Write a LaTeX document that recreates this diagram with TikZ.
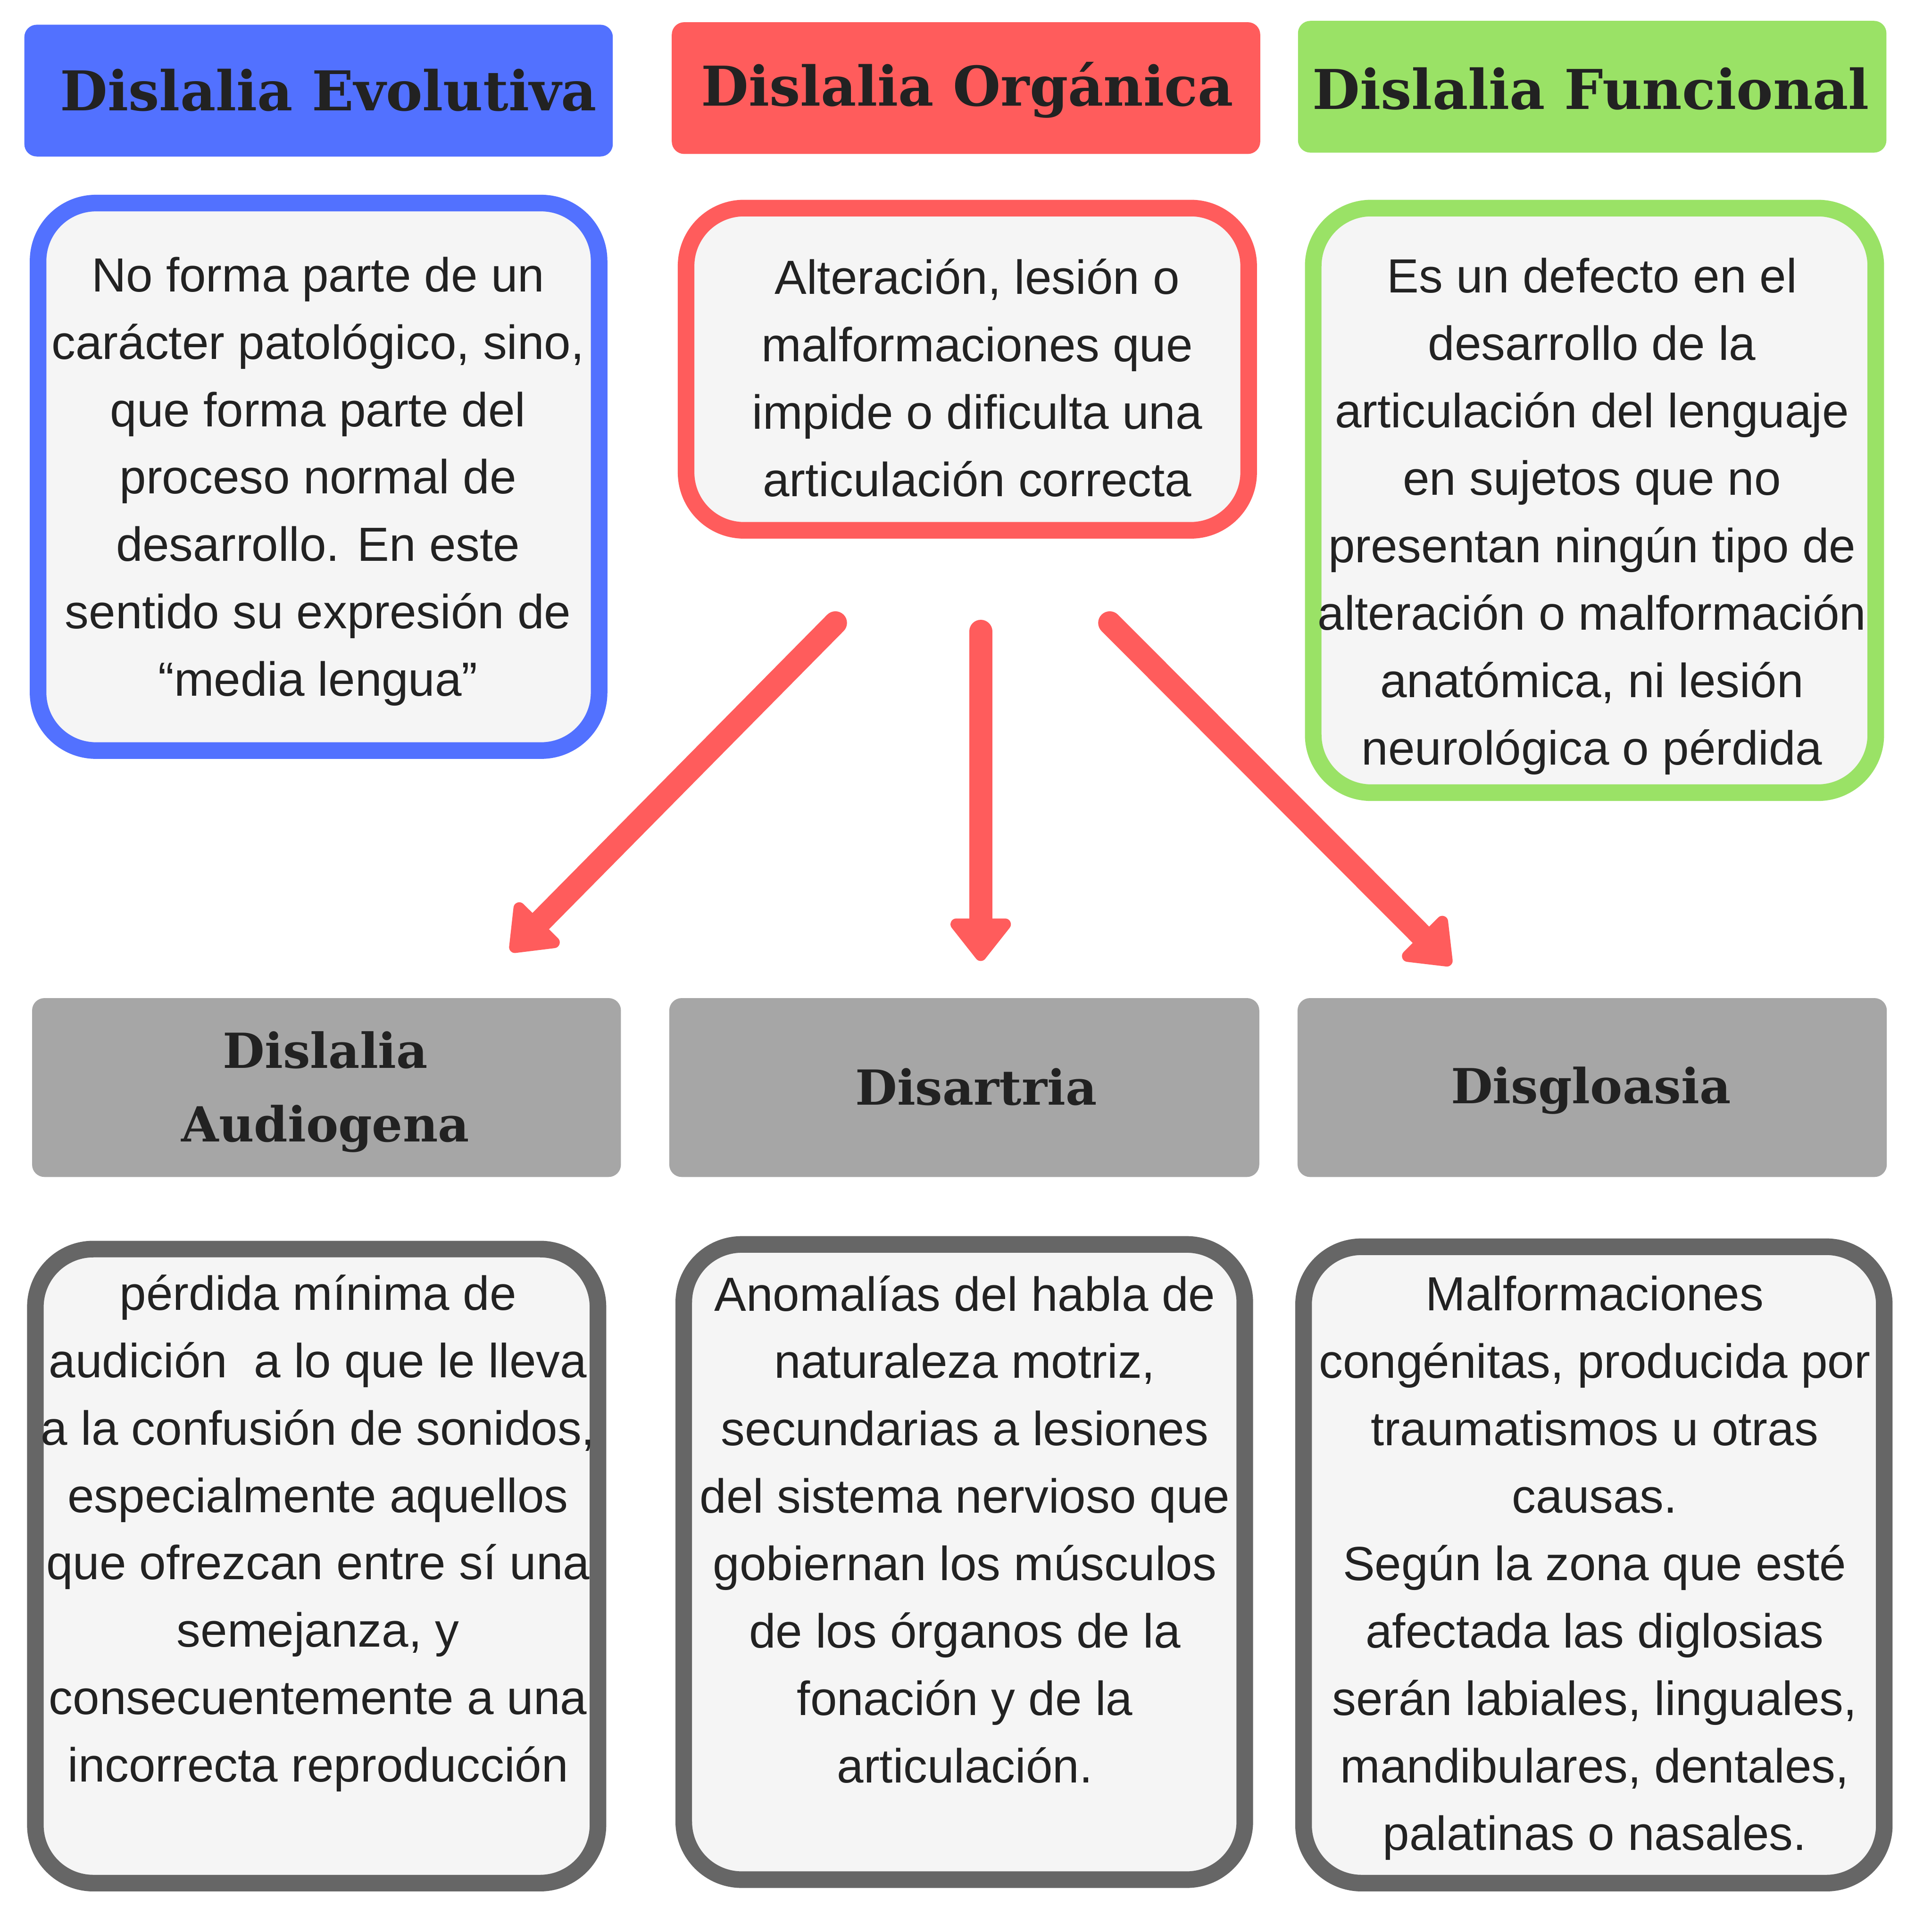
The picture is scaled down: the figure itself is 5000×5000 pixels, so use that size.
\documentclass[tikz,border=0pt]{standalone}
\usepackage{fontspec}
\setmainfont{Liberation Sans}
\newfontfamily\titlefont{DejaVu Serif}
\usetikzlibrary{arrows.meta}
\definecolor{cblue}{HTML}{5271FF}
\definecolor{cred}{HTML}{FF5C5C}
\definecolor{cgreen}{HTML}{9AE266}
\definecolor{cgray}{HTML}{A6A6A6}
\definecolor{cdark}{HTML}{666666}
\definecolor{cfill}{HTML}{F5F5F5}
\definecolor{ctext}{HTML}{222222}
\begin{document}
\begin{tikzpicture}[x=0.1pt,y=-0.1pt,
  headbox/.style={rectangle, rounded corners=3.2pt, inner sep=0pt, minimum height=34.1pt, minimum width=152.3pt},
  textbox/.style={rectangle, draw, line width=4.3pt, rounded corners=15pt, fill=cfill, inner sep=0pt},
  headtext/.style={text=ctext, font=\titlefont\bfseries\fontsize{14.2}{19.1}\selectfont, align=center, inner sep=0pt},
  grayhead/.style={text=ctext, font=\titlefont\bfseries\fontsize{12.5}{19.1}\selectfont, align=center, inner sep=0pt},
  bodytext/.style={text=ctext, font=\fontsize{12.4}{17.45}\selectfont, align=center, inner sep=0pt},
  bigarrow/.style={draw=cred, line width=6pt, line cap=round, -{Triangle[width=18pt,length=12pt,round]}}
]
\useasboundingbox (0,0) rectangle (5000,5000);
\fill[white] (0,0) rectangle (5000,5000);

% top headers
\node[headbox, fill=cblue] (hb1) at (824.5,234.5) {};
\node[headbox, fill=cred] (hb2) at (2500,228) {};
\node[headbox, fill=cgreen] (hb3) at (4120.5,224.5) {};
\node[headtext] (ht1) at (850,233) {Dislalia Evolutiva};
\node[headtext] (ht2) at (2503,233) {Dislalia Orgánica};
\node[headtext] (ht3) at (4117,230) {Dislalia Funcional};

% top text boxes
\node[textbox, draw=cblue, minimum width=145.2pt, minimum height=141.7pt] (b1) at (824.5,1234) {};
\node[textbox, draw=cred, minimum width=145.6pt, minimum height=83.4pt] (b2) at (2503.5,955.5) {};
\node[textbox, draw=cgreen, minimum width=145.6pt, minimum height=151.3pt] (b3) at (4126.5,1295) {};

\node[bodytext] (t1) at (823,1246) {No forma parte de un\\carácter patológico, sino,\\que forma parte del\\proceso normal de\\desarrollo. En este\\sentido su expresión de\\“media lengua”};
\node[bodytext] (t2) at (2529,978) {Alteración, lesión o\\malformaciones que\\impide o dificulta una\\articulación correcta};
\node[bodytext] (t3) at (4120,1336) {Es un defecto en el\\desarrollo de la\\articulación del lenguaje\\en sujetos que no\\presentan ningún tipo de\\alteración o malformación\\anatómica, ni lesión\\neurológica o pérdida};

% arrows
\coordinate (a1s) at (2162,1612);
\coordinate (a1e) at (1322,2462);
\coordinate (a2s) at (2538,1634);
\coordinate (a2e) at (2538,2487);
\coordinate (a3s) at (2872,1612);
\coordinate (a3e) at (3755,2497);
\draw[bigarrow] (a1s) -- (a1e);
\draw[bigarrow] (a2s) -- (a2e);
\draw[bigarrow] (a3s) -- (a3e);

% gray headers
\node[headbox, fill=cgray, minimum width=152.4pt, minimum height=46.3pt] (gb1) at (845,2814.5) {};
\node[headbox, fill=cgray, minimum width=152.7pt, minimum height=46.3pt] (gb2) at (2495.5,2814.5) {};
\node[headbox, fill=cgray, minimum width=152.5pt, minimum height=46.3pt] (gb3) at (4120.5,2814.5) {};
\node[grayhead] (gt1) at (842,2826) {Dislalia\\Audiogena};
\node[grayhead] (gt2) at (2526,2813) {Disartria};
\node[grayhead] (gt3) at (4117,2822) {Disgloasia};

% bottom text boxes
\node[textbox, draw=cdark, minimum width=145.6pt, minimum height=164.1pt] (c1) at (819.5,4053) {};
\node[textbox, draw=cdark, minimum width=145.2pt, minimum height=164.4pt] (c2) at (2495.5,4042.5) {};
\node[textbox, draw=cdark, minimum width=150.3pt, minimum height=164.7pt] (c3) at (4125,4050) {};

\node[bodytext] (u1) at (823,3968) {pérdida mínima de\\audición\ \ a lo que le lleva\\a la confusión de sonidos,\\especialmente aquellos\\que ofrezcan entre sí una\\semejanza, y\\consecuentemente a una\\incorrecta reproducción};
\node[bodytext] (u2) at (2497,3958) {Anomalías del habla de\\naturaleza motriz,\\secundarias a lesiones\\del sistema nervioso que\\gobiernan los músculos\\de los órganos de la\\fonación y de la\\articulación.};
\node[bodytext] (u3) at (4127,4058) {Malformaciones\\congénitas, producida por\\traumatismos u otras\\causas.\\Según la zona que esté\\afectada las diglosias\\serán labiales, linguales,\\mandibulares, dentales,\\palatinas o nasales.};
\end{tikzpicture}
\end{document}
